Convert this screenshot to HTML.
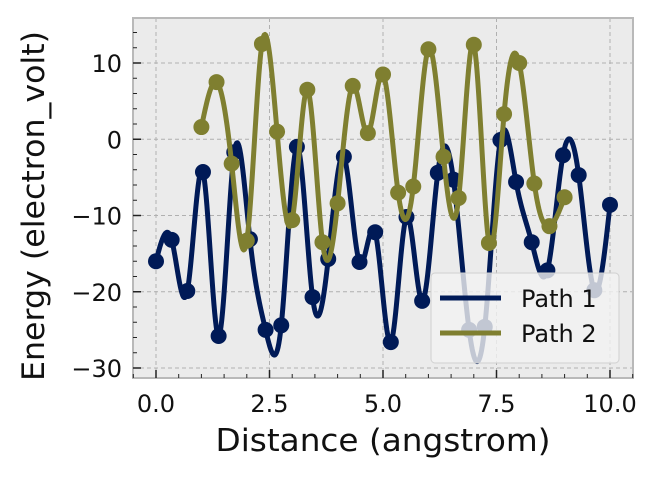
<!DOCTYPE html>
<html><head><meta charset="utf-8"><style>
body{margin:0;background:#fff;}
svg text{font-family:"DejaVu Sans","Liberation Sans",sans-serif;}
</style></head><body>
<svg id="chart" width="660" height="481" viewBox="0 0 660 481">
<rect x="133" y="18" width="500" height="360" fill="#ebebeb"/>
<g id="grid"></g>
<g id="series"></g>
<rect x="133" y="18" width="500" height="360" fill="none" stroke="#b9b9b9" stroke-width="2"/>
<g id="axes"></g>
<text x="383" y="451" font-size="31" text-anchor="middle" textLength="335" lengthAdjust="spacingAndGlyphs" fill="#111">Distance (angstrom)</text>
<text transform="translate(44,206) rotate(-90)" font-size="31" text-anchor="middle" textLength="350" lengthAdjust="spacingAndGlyphs" fill="#111">Energy (electron_volt)</text>
<g>
<rect x="431" y="273" width="188" height="90" rx="4" fill="#f2f2f2" fill-opacity="0.8" stroke="#d0d0d0"/>
<line x1="440" y1="298" x2="501" y2="298" stroke="#001a57" stroke-width="5"/>
<text x="521" y="307" font-size="24" fill="#111">Path 1</text>
<line x1="440" y1="333" x2="501" y2="333" stroke="#7f7f30" stroke-width="5"/>
<text x="521" y="342" font-size="24" fill="#111">Path 2</text>
</g>
</svg>
<script>
const path1Y=[-16.0,-13.2,-19.9,-4.3,-25.8,-1.7,-13.1,-25.0,-24.4,-1.0,-20.7,-15.7,-2.3,-16.1,-12.2,-26.6,-10.2,-21.2,-4.4,-5.3,-25.0,-24.6,-0.1,-5.6,-13.5,-17.2,-2.1,-4.7,-19.8,-8.6];
const path1Start=0, path1End=10;
const path2Y=[1.6,7.5,-3.2,-13.3,12.5,1.0,-10.6,6.5,-13.5,-8.4,7.0,0.8,8.5,-7.0,-6.2,11.8,-2.3,-7.7,12.4,-13.6,3.3,10.0,-5.8,-11.4,-7.6];
const path2Start=1, path2End=9;
const xTicks=[0,2.5,5,7.5,10];
const xTickLabels=["0.0","2.5","5.0","7.5","10.0"];
const yTicks=[10,0,-10,-20,-30];
const yTickLabels=["10","0","\u221210","\u221220","\u221230"];

const NS="http://www.w3.org/2000/svg";
const X=v=>156+v*45.4;
const Y=v=>139.25-v*7.625;
function mk(tag,attrs,parent){const e=document.createElementNS(NS,tag);for(const k in attrs)e.setAttribute(k,attrs[k]);parent.appendChild(e);return e;}
const grid=document.getElementById('grid'),axes=document.getElementById('axes'),series=document.getElementById('series');

xTicks.forEach((t,i)=>{
  const g=mk('line',{x1:X(t),x2:X(t),y1:18,y2:378,stroke:'#b0b0b0','stroke-width':1,'stroke-dasharray':'4,3'},grid);
  
  
  const tk=mk('line',{x1:X(t),x2:X(t),y1:378,y2:370,stroke:'#222','stroke-width':1.5},axes);
  
  
  const tx=mk('text',{x:X(t),y:412,'font-size':24,'text-anchor':'middle',fill:'#111'},axes);
  tx.textContent=xTickLabels[i];
  
  
});
for(let v=-0.5;v<=10.6;v+=0.5){
  if(Math.abs(v/2.5-Math.round(v/2.5))<1e-6)continue;
  const m=mk('line',{x1:X(v),x2:X(v),y1:378,y2:374,stroke:'#222','stroke-width':1},axes);
  
  
}
yTicks.forEach((t,i)=>{
  const g=mk('line',{x1:133,x2:633,y1:Y(t),y2:Y(t),stroke:'#b0b0b0','stroke-width':1,'stroke-dasharray':'4,3'},grid);
  
  
  const tk=mk('line',{x1:133,x2:141,y1:Y(t),y2:Y(t),stroke:'#222','stroke-width':1.5},axes);
  
  
  const tx=mk('text',{x:122,y:Y(t)+9,'font-size':24,'text-anchor':'end',fill:'#111'},axes);
  tx.textContent=yTickLabels[i];
  
  
});
for(let v=-30;v<=14;v+=2){
  if(v%10===0)continue;
  const m=mk('line',{x1:133,x2:137,y1:Y(v),y2:Y(v),stroke:'#222','stroke-width':1},axes);
  
  
}

function spline(xs,ys){
  const n=xs.length,h=[],a=[],l=[1],mu=[0],z=[0],c=new Array(n).fill(0),b=[],d=[];
  for(let i=0;i<n-1;i++)h.push(xs[i+1]-xs[i]);
  for(let i=1;i<n-1;i++)a[i]=3/h[i]*(ys[i+1]-ys[i])-3/h[i-1]*(ys[i]-ys[i-1]);
  for(let i=1;i<n-1;i++){l[i]=2*(xs[i+1]-xs[i-1])-h[i-1]*mu[i-1];mu[i]=h[i]/l[i];z[i]=(a[i]-h[i-1]*z[i-1])/l[i];}
  for(let j=n-2;j>=0;j--){if(j>0)c[j]=z[j]-mu[j]*c[j+1];b[j]=(ys[j+1]-ys[j])/h[j]-h[j]*(c[j+1]+2*c[j])/3;d[j]=(c[j+1]-c[j])/(3*h[j]);}
  const pts=[];
  for(let i=0;i<n-1;i++)for(let k=0;k<20;k++){const t=h[i]*k/20;pts.push([xs[i]+t,ys[i]+b[i]*t+c[i]*t*t+d[i]*t*t*t]);}
  pts.push([xs[n-1],ys[n-1]]);return pts;
}
function draw(ys,x0,x1,color,name){
  const xs=ys.map((_,i)=>x0+(x1-x0)*i/(ys.length-1));
  const p=spline(xs,ys).map(q=>X(q[0]).toFixed(2)+','+Y(q[1]).toFixed(2)).join(' ');
  const pl=mk('polyline',{points:p,fill:'none',stroke:color,'stroke-width':5,'stroke-linejoin':'round'},series);
  
  
  ys.forEach((v,i)=>{
    const c=mk('circle',{cx:X(xs[i]),cy:Y(v),r:8,fill:color},series);
    
    
  });
}
draw(path1Y,path1Start,path1End,'#001a57','path-1');
draw(path2Y,path2Start,path2End,'#7f7f30','path-2');
</script>
</body></html>
